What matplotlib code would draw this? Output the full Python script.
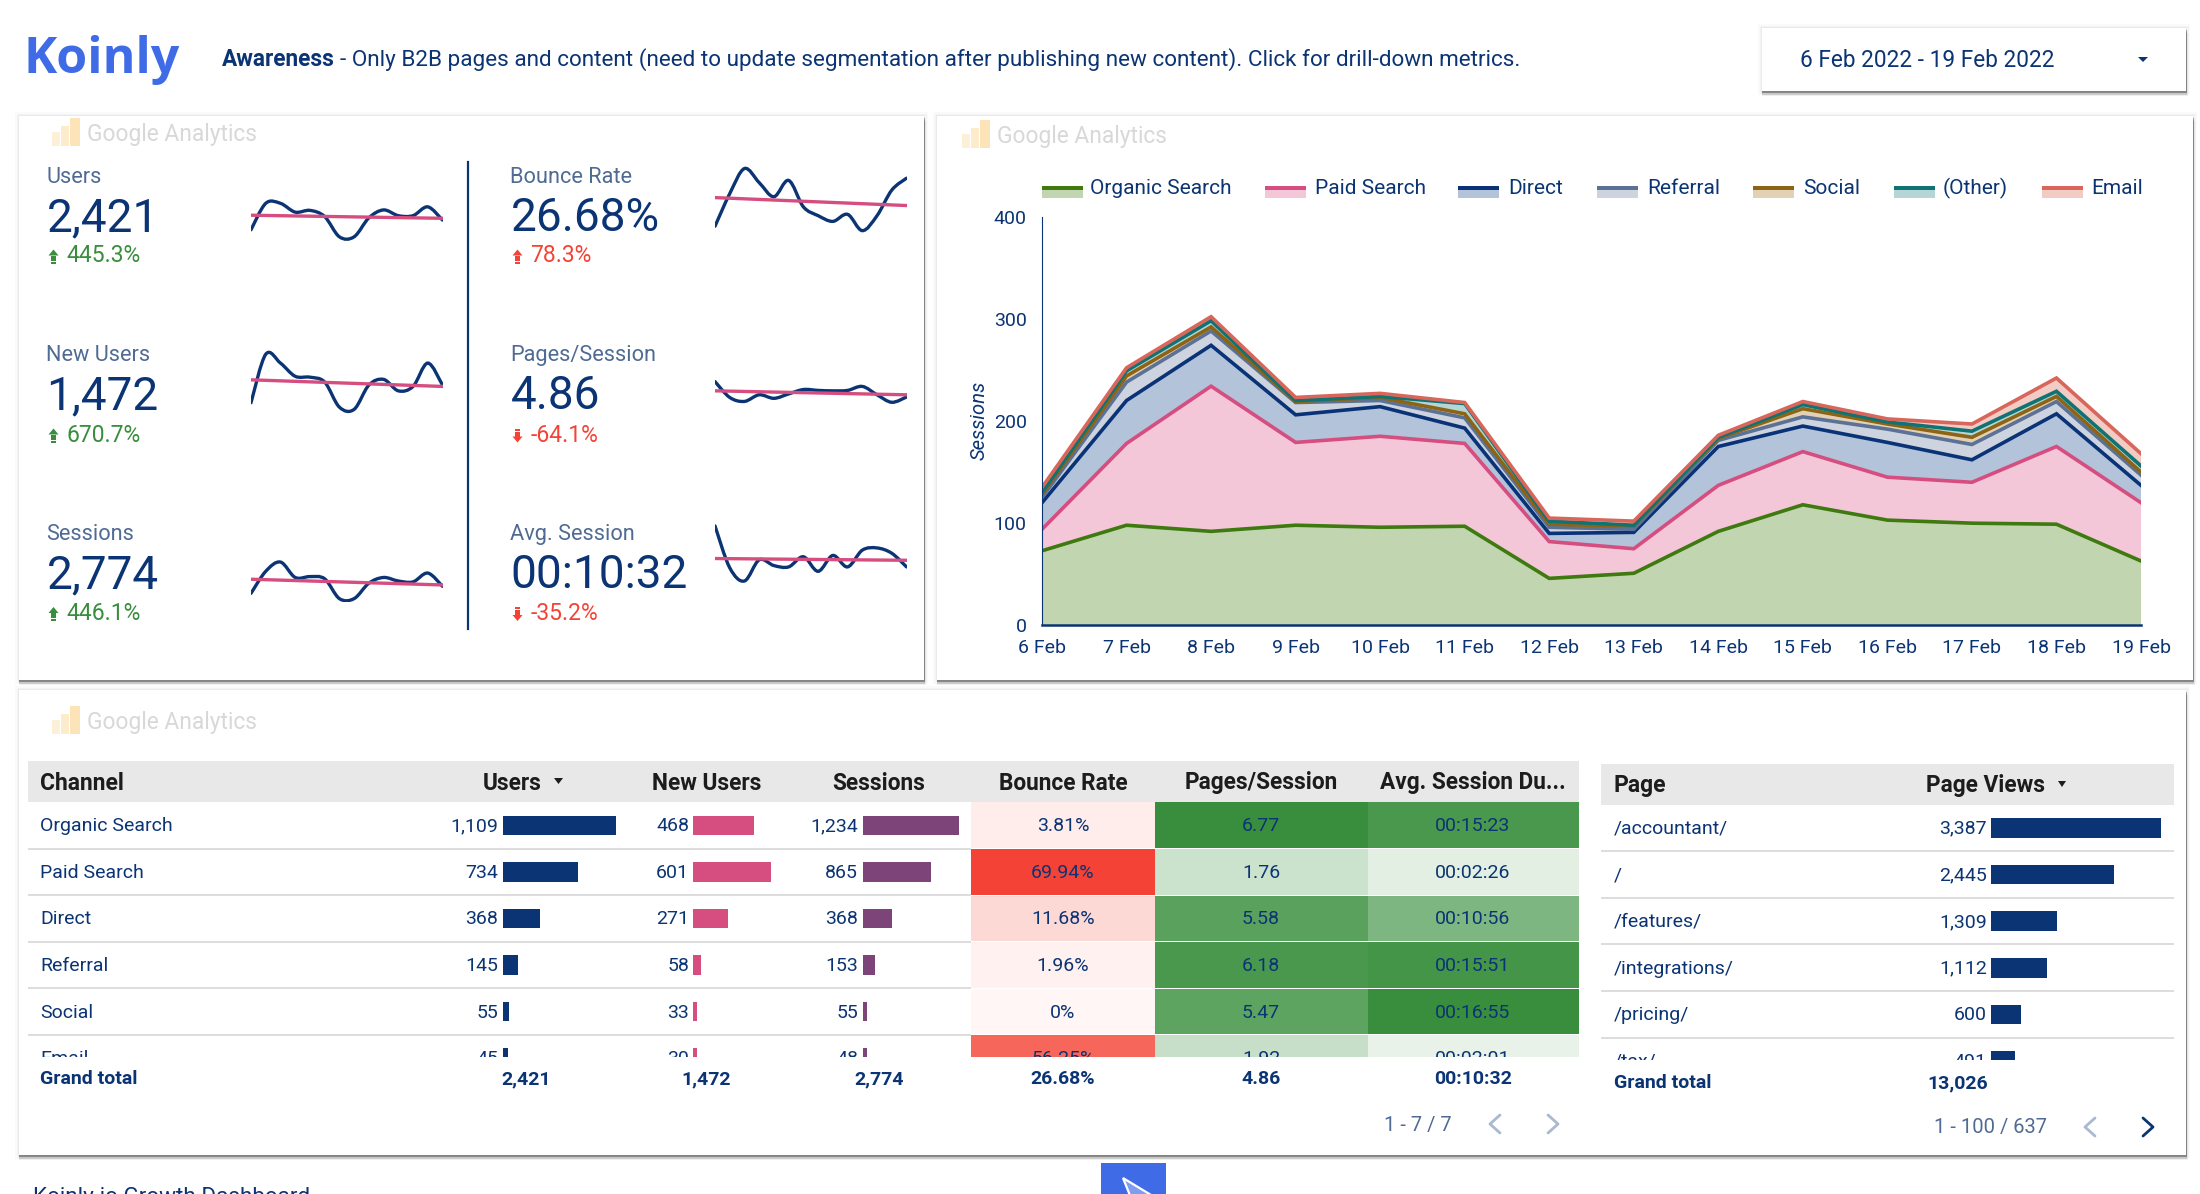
#!/usr/bin/env python

import numpy as np
import matplotlib
matplotlib.use('Agg')
import matplotlib.pyplot as plt
from matplotlib.colors import LinearSegmentedColormap
from matplotlib.patches import PathPatch, Polygon, Rectangle
from matplotlib.path import Path

plt.rcParams['font.family'] = ['Roboto', 'DejaVu Sans']

NAVY = '#0b3474'
SOFT = '#4f6b94'
GREEN = '#388e3c'
RED = '#f44336'
PINK = '#d64d80'

# Scorecards
card_labels = ['Users', 'New Users', 'Sessions', 'Bounce Rate', 'Pages/Session', 'Avg. Session']
card_values = ['2,421', '1,472', '2,774', '26.68%', '4.86', '00:10:32']
card_deltas = ['445.3%', '670.7%', '446.1%', '78.3%', '-64.1%', '-35.2%']
card_good = [True, True, True, False, False, False]
card_up = [True, True, True, True, False, False]

# Sparklines on a relative scale 0-180
spark_users = [33, 93, 93, 73, 77, 63, 17, 17, 60, 78, 65, 65, 85, 55]
spark_new = [46, 156, 136, 106, 104, 93, 36, 31, 86, 99, 73, 83, 136, 86]
spark_sessions = [19, 69, 90, 55, 57, 52, 7, 7, 42, 55, 47, 45, 65, 35]
spark_bounce = [41, 115, 172, 140, 108, 145, 85, 65, 52, 68, 31, 65, 123, 150]
spark_pages = [94, 58, 49, 64, 56, 66, 76, 74, 73, 74, 83, 64, 47, 59]
spark_avg = [172, 77, 47, 95, 82, 79, 102, 69, 105, 79, 117, 122, 110, 79]
spark_all = [spark_users, spark_new, spark_sessions, spark_bounce, spark_pages, spark_avg]
trend_all = [(66, 59), (98, 83), (51, 38), (106, 88), (73, 64), (98, 94)]

# Stacked sessions per channel
days = ['6 Feb', '7 Feb', '8 Feb', '9 Feb', '10 Feb', '11 Feb', '12 Feb', '13 Feb',
        '14 Feb', '15 Feb', '16 Feb', '17 Feb', '18 Feb', '19 Feb']
organic = [73, 98, 92, 98, 96, 97, 46, 51, 92, 118, 103, 100, 99, 63]
paid = [21, 80, 142, 81, 89, 81, 36, 24, 45, 52, 42, 40, 76, 57]
direct = [26, 42, 40, 27, 29, 15, 8, 16, 38, 25, 34, 22, 32, 17]
referral = [5, 18, 14, 12, 6, 10, 6, 3, 6, 9, 13, 15, 12, 10]
social = [3, 6, 4, 1, 3, 4, 3, 3, 2, 8, 5, 7, 5, 3]
other = [2, 5, 6, 1, 1, 10, 3, 1, 1, 4, 2, 6, 5, 6]
email = [5, 3, 4, 3, 3, 1, 3, 4, 2, 3, 3, 7, 13, 12]
channels_legend = ['Organic Search', 'Paid Search', 'Direct', 'Referral', 'Social', '(Other)', 'Email']
line_colors = ['#3e7a0f', PINK, '#0a3377', '#5b7296', '#8d6314', '#0f7273', '#d9665a']
fill_colors = ['#c2d5b1', '#f3c7d8', '#b2c3da', '#cdd4e0', '#e3d1b5', '#b5d5d6', '#f2cbc4']

# Channel table
channels = ['Organic Search', 'Paid Search', 'Direct', 'Referral', 'Social', 'Email']
users = [1109, 734, 368, 145, 55, 45]
new_users = [468, 601, 271, 58, 33, 30]
sessions = [1234, 865, 368, 153, 55, 48]
bounce = [3.81, 69.94, 11.68, 1.96, 0, 56.25]
pages_session = [6.77, 1.76, 5.58, 6.18, 5.47, 1.92]
avg_session = ['00:15:23', '00:02:26', '00:10:56', '00:15:51', '00:16:55', '00:02:01']

# Page table
pages = ['/accountant/', '/', '/features/', '/integrations/', '/pricing/', '/tax/']
page_views = [3387, 2445, 1309, 1112, 600, 491]

fig = plt.figure(figsize=(22, 11.94), dpi=100, facecolor='white')
bg = fig.add_axes([0, 0, 1, 1])
bg.set_xlim(0, 2200)
bg.set_ylim(1194, 0)
bg.axis('off')


def px_axes(x0, y0, x1, y1):
    ax = fig.add_axes([x0 / 2200, 1 - y1 / 1194, (x1 - x0) / 2200, (y1 - y0) / 1194])
    ax.patch.set_alpha(0)
    return ax


def card(x0, y0, x1, y1):
    # faint halo all round, then a hard grey edge at the bottom and right
    for grow, a in [(4, 0.025), (2.5, 0.035), (1.2, 0.05)]:
        bg.add_patch(Rectangle((x0 - grow, y0 - grow), x1 - x0 + 2 * grow, y1 - y0 + 2 * grow,
                               fc='#444444', ec='none', alpha=a))
    for down, a in [(5, 0.08), (3.5, 0.16), (2, 0.42)]:
        bg.add_patch(Rectangle((x0, y0 + down), x1 - x0 + down / 3, y1 - y0, fc='#333333', ec='none', alpha=a))
    bg.add_patch(Rectangle((x0, y0), x1 - x0, y1 - y0, fc='white', ec='none'))


def watermark(x, y):
    bg.add_patch(Rectangle((x, y + 14), 8, 14, fc='#fdf0d8', ec='none'))
    bg.add_patch(Rectangle((x + 9, y + 8), 8, 20, fc='#fdeccb', ec='none'))
    bg.add_patch(Rectangle((x + 18, y), 10, 28, fc='#fde3b8', ec='none'))
    bg.text(x + 35, y + 16.5, 'Google Analytics', fontsize=16.4, color='#d8d8d8', va='center')


def smooth_line(ax, y, color, lw):
    # Catmull-Rom through the values, the dashboard draws its sparklines smoothed
    pts = np.column_stack([np.arange(len(y)), y]).astype(float)
    verts = [pts[0]]
    codes = [Path.MOVETO]
    for i in range(len(pts) - 1):
        p0 = pts[max(i - 1, 0)]
        p1 = pts[i]
        p2 = pts[i + 1]
        p3 = pts[min(i + 2, len(pts) - 1)]
        verts += [p1 + (p2 - p0) / 6, p2 - (p3 - p1) / 6, p2]
        codes += [Path.CURVE4] * 3
    ax.add_patch(PathPatch(Path(verts, codes), fc='none', ec=color, lw=lw, capstyle='round'))


def arrow(x, y, up, color):
    if up:
        bg.add_patch(Polygon([[x - 5, y - 0.5], [x + 5, y - 0.5], [x, y - 6.5]], fc=color, ec='none'))
        bg.add_patch(Rectangle((x - 2.8, y - 0.5), 5.6, 5, fc=color, ec='none'))
        bg.add_patch(Rectangle((x - 2.8, y + 5.5), 5.6, 2, fc=color, ec='none'))
    else:
        bg.add_patch(Polygon([[x - 5, y + 1.5], [x + 5, y + 1.5], [x, y + 7.5]], fc=color, ec='none'))
        bg.add_patch(Rectangle((x - 2.8, y - 3.5), 5.6, 5, fc=color, ec='none'))
        bg.add_patch(Rectangle((x - 2.8, y - 6.5), 5.6, 2, fc=color, ec='none'))


def chevron(x, y, right, color):
    d = 5 if right else -5
    bg.plot([x - d, x + d, x - d], [y - 9, y, y + 9], color=color, lw=2, solid_capstyle='round')


# Header
bg.text(23, 73, 'Koinly', fontsize=36, color='#3f6ce6', family='Open Sans', weight='bold', va='baseline')
t = bg.text(222, 60, 'Awareness', fontsize=16.3, color=NAVY, weight='bold', va='center')
end = t.get_window_extent(fig.canvas.get_renderer()).x1
bg.text(end + 5, 60, '- Only B2B pages and content (need to update segmentation after publishing new content). Click for drill-down metrics.',
        fontsize=16.2, color=NAVY, va='center')
card(1762, 28, 2186, 91)
bg.text(1800, 60.5, '6 Feb 2022 - 19 Feb 2022', fontsize=16.3, color=NAVY, va='center')
bg.add_patch(Polygon([[2138, 57], [2148, 57], [2143, 62]], fc=NAVY, ec='none'))

# Cards
card(19, 116, 924, 680)
card(937, 116, 2193, 680)
card(19, 690, 2186, 1155)
watermark(52, 118)
watermark(962, 120)
watermark(52, 706)

# Scorecards and sparklines
bg.plot([467.5, 467.5], [161.5, 628.5], color=NAVY, lw=1.6)
label_y = [177.5, 355.5, 534.5]
value_y = [218, 396, 575]
delta_y = [256, 435, 613.5]
spark_top = [165, 343.7, 522.4]
for i in range(6):
    row = i % 3
    left = i >= 3
    tx = 510.5 if left else 46.5
    delta_color = GREEN if card_good[i] else RED
    bg.text(tx, label_y[row], card_labels[i], fontsize=15.7, color=SOFT, va='center')
    bg.text(tx, value_y[row], card_values[i], fontsize=33, color=NAVY, va='center')
    bg.text(tx + 20, delta_y[row], card_deltas[i], fontsize=16.5, color=delta_color, va='center')
    arrow(tx + 7, delta_y[row], card_up[i], delta_color)
    sx = 715 if left else 251
    ax = px_axes(sx, spark_top[row], sx + 191.5, spark_top[row] + 79.3)
    ax.set_xlim(0, 13)
    ax.set_ylim(0, 180)
    ax.axis('off')
    smooth_line(ax, spark_all[i], NAVY, 2.4)
    ax.plot([0, 13], trend_all[i], color=PINK, lw=2.4)

# Stacked area chart
ax = px_axes(1042, 216.5, 2141, 625.4)
x = np.arange(len(days))
layers = np.array([organic, paid, direct, referral, social, other, email])
ax.stackplot(x, layers, colors=fill_colors, lw=0)
for tops, c in zip(np.cumsum(layers, axis=0), line_colors):
    ax.plot(x, tops, color=c, lw=2.6, solid_joinstyle='miter')
ax.set_xlim(0, 13)
ax.set_ylim(0, 400)
ax.set_xticks(x)
ax.set_xticklabels(days)
ax.set_yticks([0, 100, 200, 300, 400])
ax.tick_params(length=0, labelsize=14, labelcolor=NAVY)
ax.tick_params(axis='x', pad=10)
ax.tick_params(axis='y', pad=11)
for side in ['top', 'right']:
    ax.spines[side].set_visible(False)
ax.spines['left'].set_color(NAVY)
ax.spines['left'].set_linewidth(0.8)
ax.spines['bottom'].set_color(NAVY)
ax.spines['bottom'].set_linewidth(1.8)
bg.text(979, 420, 'Sessions', fontsize=14.6, color=NAVY, style='italic', rotation=90, va='center', ha='center')

# Legend
swatch_x = [1042, 1265, 1458, 1597, 1753, 1894, 2042]
label_x = [1090, 1315, 1508, 1647, 1803, 1943, 2091]
for name, sx, lx, lc, fc in zip(channels_legend, swatch_x, label_x, line_colors, fill_colors):
    bg.add_patch(Rectangle((sx, 186), 41, 12, fc=fc, ec='none'))
    bg.add_patch(Rectangle((sx, 186), 41, 4, fc=lc, ec='none'))
    bg.text(lx, 188.5, name, fontsize=15, color=NAVY, va='center')

# Channel table header and totals
bg.add_patch(Rectangle((27.5, 761), 1551.5, 41, fc='#e8e8e8', ec='none'))
HEAD = '#1c1c1c'
bg.text(40, 783, 'Channel', fontsize=16.5, color=HEAD, weight='bold', va='center')
bg.text(512, 783, 'Users', fontsize=16.3, color=HEAD, weight='bold', va='center', ha='center')
bg.add_patch(Polygon([[554, 778], [563, 778], [558.5, 784]], fc=HEAD, ec='none'))
head_names = ['New Users', 'Sessions', 'Bounce Rate', 'Pages/Session', 'Avg. Session Du...']
head_x = [706.5, 879, 1063, 1261, 1473]
for name, hx in zip(head_names, head_x):
    bg.text(hx, 783, name, fontsize=16.3, color=HEAD, weight='bold', va='center', ha='center')
bg.text(40, 1079, 'Grand total', fontsize=14, color=NAVY, weight='bold', va='center')
total_x = [526, 706.5, 879, 1063, 1261, 1473]
for val, tx in zip(card_values, total_x):
    bg.text(tx, 1079, val, fontsize=14, color=NAVY, weight='bold', va='center', ha='center')
bg.text(1418, 1125, '1 - 7 / 7', fontsize=14.5, color=SOFT, va='center', ha='center')
chevron(1495, 1124, False, '#a9b9d1')
chevron(1553, 1124, True, '#a9b9d1')

# Channel table rows, clipped to the visible rows
tab = px_axes(27.5, 802, 1579, 1057.3)
tab.set_xlim(27.5, 1579)
tab.set_ylim(4.98, -0.5)
tab.axis('off')
rows = np.arange(len(channels))
tab.barh(rows, np.array(users) * 112.9 / 1109, left=503, height=0.42, color=NAVY)
tab.barh(rows, np.array(new_users) * 78.4 / 601, left=693, height=0.42, color='#d64d80')
tab.barh(rows, np.array(sessions) * 96.3 / 1234, left=863, height=0.42, color='#7c4479')

reds = LinearSegmentedColormap.from_list('reds', ['#fff6f5', RED])
greens = LinearSegmentedColormap.from_list('greens', ['#ffffff', GREEN])
avg_seconds = [int(s[:2]) * 3600 + int(s[3:5]) * 60 + int(s[6:]) for s in avg_session]
tab.barh(rows, 184, left=971.5, height=0.98, color=reds(np.array(bounce) / max(bounce)))
tab.barh(rows, 213, left=1155.5, height=0.98, color=greens(np.array(pages_session) / max(pages_session)))
tab.barh(rows, 210.5, left=1368.5, height=0.98, color=greens(np.array(avg_seconds) / max(avg_seconds)))
tab.hlines(rows[:-1] + 0.5, 27.5, 971.5, color='#dddddd', lw=1.4)

FS = 14
DY = 0.02
for i in rows:
    tab.text(40, i + DY, channels[i], fontsize=FS, color=NAVY, va='center', clip_on=True)
    tab.text(498, i + DY, f'{users[i]:,}', fontsize=FS, color=NAVY, va='center', ha='right', clip_on=True)
    tab.text(689, i + DY, f'{new_users[i]:,}', fontsize=FS, color=NAVY, va='center', ha='right', clip_on=True)
    tab.text(858, i + DY, f'{sessions[i]:,}', fontsize=FS, color=NAVY, va='center', ha='right', clip_on=True)
    tab.text(1063, i + DY, f'{bounce[i]:g}%', fontsize=FS, color=NAVY, va='center', ha='center', clip_on=True)
    tab.text(1261, i + DY, f'{pages_session[i]:.2f}', fontsize=FS, color=NAVY, va='center', ha='center', clip_on=True)
    tab.text(1473, i + DY, avg_session[i], fontsize=FS, color=NAVY, va='center', ha='center', clip_on=True)

# Page table
bg.add_patch(Rectangle((1600.5, 763.5), 573.5, 41.5, fc='#e8e8e8', ec='none'))
bg.text(1613.5, 785.5, 'Page', fontsize=16.5, color=HEAD, weight='bold', va='center')
bg.text(1986, 785.5, 'Page Views', fontsize=16.3, color=HEAD, weight='bold', va='center', ha='center')
bg.add_patch(Polygon([[2058, 781], [2066, 781], [2062, 787]], fc=HEAD, ec='none'))
bg.text(1613.5, 1083, 'Grand total', fontsize=14, color=NAVY, weight='bold', va='center')
bg.text(1927, 1083, '13,026', fontsize=14, color=NAVY, weight='bold', va='center')
bg.text(1991, 1128, '1 - 100 / 637', fontsize=14.5, color=SOFT, va='center', ha='center')
chevron(2090, 1127, False, '#a9b9d1')
chevron(2148, 1127, True, NAVY)

ptab = px_axes(1600.5, 805, 2174, 1060)
ptab.set_xlim(1600.5, 2174)
ptab.set_ylim((1060 - 827.7) / 46.67, -(827.7 - 805) / 46.67)
ptab.axis('off')
prows = np.arange(len(pages))
ptab.barh(prows, np.array(page_views) * 170.7 / 3387, left=1990.7, height=0.42, color=NAVY)
ptab.hlines(prows[:-1] + 0.5, 1600.5, 2174, color='#dddddd', lw=1.4)
for i in prows:
    ptab.text(1613.5, i + DY, pages[i], fontsize=FS, color=NAVY, va='center', clip_on=True)
    ptab.text(1986.7, i + DY, f'{page_views[i]:,}', fontsize=FS, color=NAVY, va='center', ha='right', clip_on=True)

# Footer, cut by the bottom edge as in the dashboard screenshot
bg.text(33, 1186.5, 'Koinly.io Growth Dashboard', fontsize=16.2, color=NAVY, va='top')
bg.add_patch(Rectangle((1100.5, 1162.5), 65, 32, fc='#3f6ce6', ec='none'))
bg.add_patch(Polygon([[1123, 1178], [1156, 1198], [1131, 1198]], fc='#7f9df0', ec='white', lw=1.6, clip_on=True))

fig.savefig('out.png', dpi=100, facecolor='white')
